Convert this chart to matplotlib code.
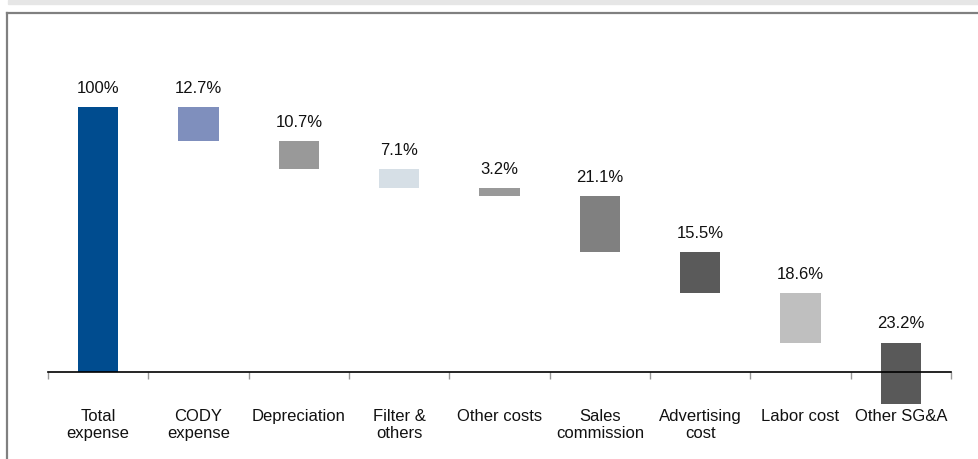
import matplotlib.pyplot as plt
from matplotlib.patches import Rectangle
from matplotlib.lines import Line2D
import numpy as np

plt.rcParams['font.family'] = ['Liberation Sans', 'DejaVu Sans']

categories = ['Total\nexpense', 'CODY\nexpense', 'Depreciation', 'Filter &\nothers',
              'Other costs', 'Sales\ncommission', 'Advertising\ncost', 'Labor cost',
              'Other SG&A']
values = [100, 12.7, 10.7, 7.1, 3.2, 21.1, 15.5, 18.6, 23.2]
labels = ['100%', '12.7%', '10.7%', '7.1%', '3.2%', '21.1%', '15.5%', '18.6%', '23.2%']
colors = ['#004c8f', '#7f8fbd', '#999999', '#d6dfe6', '#999999',
          '#808080', '#5a5a5a', '#bfbfbf', '#595959']


def waterfall(vals):
    # first bar is the total, the rest step down from it
    bottoms = [0]
    tops = [vals[0]]
    level = vals[0]
    for v in vals[1:]:
        tops.append(level)
        level -= v
        bottoms.append(level)
    return np.array(bottoms), np.array(tops)


bottoms, tops = waterfall(values)

fig = plt.figure(figsize=(9.79, 4.59), dpi=100)

# page furniture: grey strip on top and a thin frame
fig.patches.append(Rectangle((8 / 979, 1 - 4 / 459), 1, 4 / 459,
                             transform=fig.transFigure, color='#e6e6e6', zorder=0))
fig.lines.append(Line2D([7 / 979, 1], [1 - 12.5 / 459] * 2,
                        transform=fig.transFigure, color='#808080', lw=1.6))
fig.lines.append(Line2D([7 / 979] * 2, [0, 1 - 12.5 / 459],
                        transform=fig.transFigure, color='#808080', lw=1.6))

ax = fig.add_axes([48 / 979, (459 - 409) / 459, (951 - 48) / 979, (409 - 78) / 459])
ax.set_facecolor('none')

x = np.arange(len(categories))
ax.bar(x, tops - bottoms, bottom=bottoms, width=0.4, color=colors, zorder=2)

for xi, top, lab in zip(x, tops, labels):
    ax.annotate(lab, (xi, top), xytext=(0, 8), textcoords='offset points',
                ha='center', va='bottom', fontsize=12, color='#111111')

ax.set_xlim(-0.5, len(categories) - 0.5)
ax.set_ylim(-14, 111)

for side in ['top', 'right', 'left']:
    ax.spines[side].set_visible(False)
ax.spines['bottom'].set_position(('data', 0))
ax.spines['bottom'].set_color('black')
ax.spines['bottom'].set_linewidth(1.2)
ax.spines['bottom'].set_zorder(3)
ax.set_yticks([])

# separators between categories, names centred underneath
ax.set_xticks(np.arange(-0.5, len(categories), 1))
ax.set_xticklabels([])
ax.tick_params(axis='x', which='major', length=5, color='#999999', width=1)
ax.set_xticks(x, minor=True)
ax.set_xticklabels(categories, minor=True, fontsize=12, color='#111111',
                   linespacing=1.1)
ax.tick_params(axis='x', which='minor', length=0, pad=27)

fig.savefig('out.png', dpi=100)
